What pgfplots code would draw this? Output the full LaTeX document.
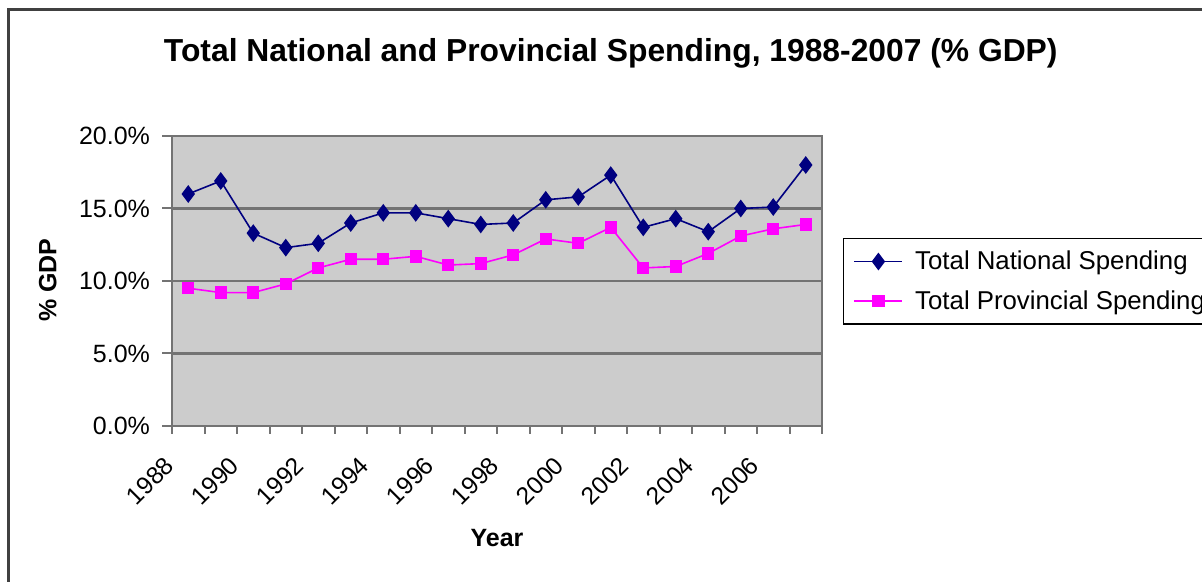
\documentclass[border=0pt]{standalone}
\usepackage{pgfplots}
\pgfplotsset{compat=1.18}
\usepackage{fontspec}
\setmainfont{Liberation Sans}
\definecolor{navy}{RGB}{0,0,128}
\definecolor{mag}{RGB}{255,0,255}
\definecolor{plotbg}{RGB}{204,204,204}
\definecolor{gridc}{RGB}{115,115,115}
\pgfplotstableread{
x nat prov
0 16.0 9.5
1 16.9 9.2
2 13.3 9.2
3 12.3 9.8
4 12.6 10.9
5 14.0 11.5
6 14.7 11.5
7 14.7 11.7
8 14.3 11.1
9 13.9 11.2
10 14.0 11.8
11 15.6 12.9
12 15.8 12.6
13 17.3 13.7
14 13.7 10.9
15 14.3 11.0
16 13.4 11.9
17 15.0 13.1
18 15.1 13.6
19 18.0 13.9
}\data
\begin{document}
\begin{tikzpicture}
\useasboundingbox (0pt,0pt) rectangle (601pt,291pt);
\clip (0pt,0pt) rectangle (601pt,291pt);
\fill[white] (0pt,0pt) rectangle (601pt,291pt);
\draw[line width=1.5pt, black!75] (4pt,-20pt) -- (4pt,286pt) -- (700pt,286pt);
\begin{axis}[
  at={(86pt,78pt)}, anchor=south west,
  scale only axis, width=325pt, height=145pt,
  xmin=-0.5, xmax=19.5, ymin=0, ymax=20,
  axis background/.style={fill=plotbg},
  axis line style={draw=gridc, line width=1pt},
  ymajorgrids, major grid style={draw=gridc, line width=1.4pt},
  ytick={0,5,10,15,20},
  yticklabel={\pgfmathprintnumber[fixed,fixed zerofill,precision=1]{\tick}\%},
  /pgf/number format/assume math mode=true,
  xtick={0,2,...,18},
  xticklabels={1988,1990,1992,1994,1996,1998,2000,2002,2004,2006},
  minor xtick={-0.5,0.5,...,19.5},
  major x tick style={draw=none},
  minor x tick style={draw=gridc, line width=1pt},
  major y tick style={draw=gridc, line width=1pt},
  xtick pos=bottom, ytick pos=left,
  tick align=outside, major tick length=5pt, minor tick length=4pt,
  xticklabel style={xshift=-12.5pt, yshift=-8pt, rotate=45, anchor=north east, font=\fontsize{12.3}{14}\selectfont, inner sep=1pt},
  yticklabel style={font=\fontsize{12.5}{14}\selectfont, xshift=-2.5pt},
  title={Total National and Provincial Spending, 1988-2007 (\% GDP)},
  title style={at={(0.675,1.242)}, anchor=center, yshift=0pt, font=\bfseries\fontsize{15.9}{18}\selectfont},
  xlabel={Year},
  xlabel style={at={(0.5,-0.387)}, anchor=center, font=\bfseries\fontsize{12.5}{14}\selectfont},
  ylabel={\% GDP},
  ylabel style={at={(-0.191,0.503)}, anchor=center, font=\bfseries\fontsize{12.5}{14}\selectfont},
  legend style={at={(1.0323,0.648)}, anchor=north west, draw=black, line width=0.6pt, fill=white,
    font=\fontsize{12.9}{14}\selectfont, row sep=5pt, column sep=4pt, inner xsep=5pt, inner ysep=4pt},
  legend cell align=left,
  legend image code/.code={\draw[mark repeat=2,mark phase=2,#1] plot coordinates {(0pt,0pt) (12pt,0pt) (24pt,0pt)};},
  clip=false,
]
\addplot[navy, line width=0.8pt, mark=diamond*, mark size=3.8pt, mark options={fill=navy, draw=navy}] table[x=x,y=nat] {\data};
\addlegendentry{Total National Spending}
\addplot[mag, line width=0.8pt, mark=square*, mark size=2.7pt, mark options={fill=mag, draw=mag}] table[x=x,y=prov] {\data};
\addlegendentry{Total Provincial Spending}
\end{axis}
\end{tikzpicture}
\end{document}
